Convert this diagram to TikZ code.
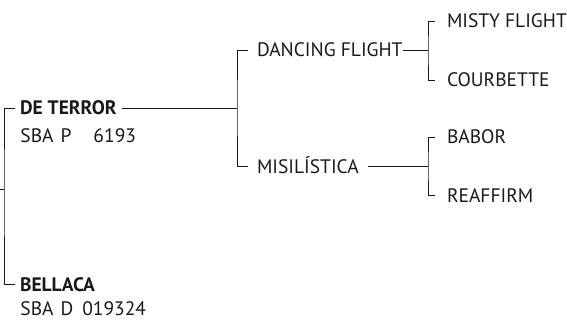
\documentclass[tikz,border=0pt]{standalone}
\usepackage{fontspec}
\setmainfont{PT Sans}
\usetikzlibrary{positioning}

\begin{document}
\begin{tikzpicture}[
  x=1pt, y=-1pt,
  font=\fontsize{19.5}{22}\selectfont,
  color=black!90,
  line width=0.9pt,
  horse/.style={inner sep=0pt, anchor=west, text height=13.6pt, text depth=0pt},
  sire/.style={horse, outer xsep=5pt, font=\fontsize{19.5}{22}\selectfont\bfseries},
  regno/.style={inner sep=0pt, anchor=west, text height=13.6pt, text depth=0pt},
  grandsire/.style={horse, outer xsep=9pt},
  greatsire/.style={horse, outer xsep=12pt},
]
\useasboundingbox (0,0) rectangle (567,321);

% Sire and dam with their registry numbers
\node[sire] (terror) at (15,108) {DE TERROR};
\node[regno] (terrorid) at (20,136) {SBA\hspace{7pt}P\hspace{22pt}6193};
\node[sire] (bellaca) at (15,284.5) {BELLACA};
\node[regno] (bellacaid) at (20,309) {SBA\hspace{7pt}D\hspace{9pt}019324};

% Second generation
\node[grandsire] (dancing) at (248,50) {DANCING FLIGHT};
\node[grandsire] (misil) at (248,166.5) {MISILÍSTICA};

% Third generation
\node[greatsire] (misty) at (435,21) {MISTY FLIGHT};
\node[greatsire] (courb) at (435,80) {COURBETTE};
\node[greatsire] (babor) at (435,137) {BABOR};
\node[greatsire] (reaff) at (435,195.5) {REAFFIRM};

% Bracket joints
\coordinate (root) at (0,189);
\coordinate (j0) at (4,189);
\coordinate (j1) at (237,108);
\coordinate (j2) at (428,50);
\coordinate (j3) at (428,166.5);

% Connectors
\draw (root) -- (j0);
\draw (terror.west) -| (j0) |- (bellaca.west);
\draw (terror.east) -- (j1);
\draw (dancing.west) -| (j1) |- (misil.west);
\draw ([xshift=-9pt]dancing.east) -- (j2);
\draw (misty.west) -| (j2) |- (courb.west);
\draw (misil.east) -- (j3);
\draw (babor.west) -| (j3) |- (reaff.west);

\end{tikzpicture}
\end{document}
